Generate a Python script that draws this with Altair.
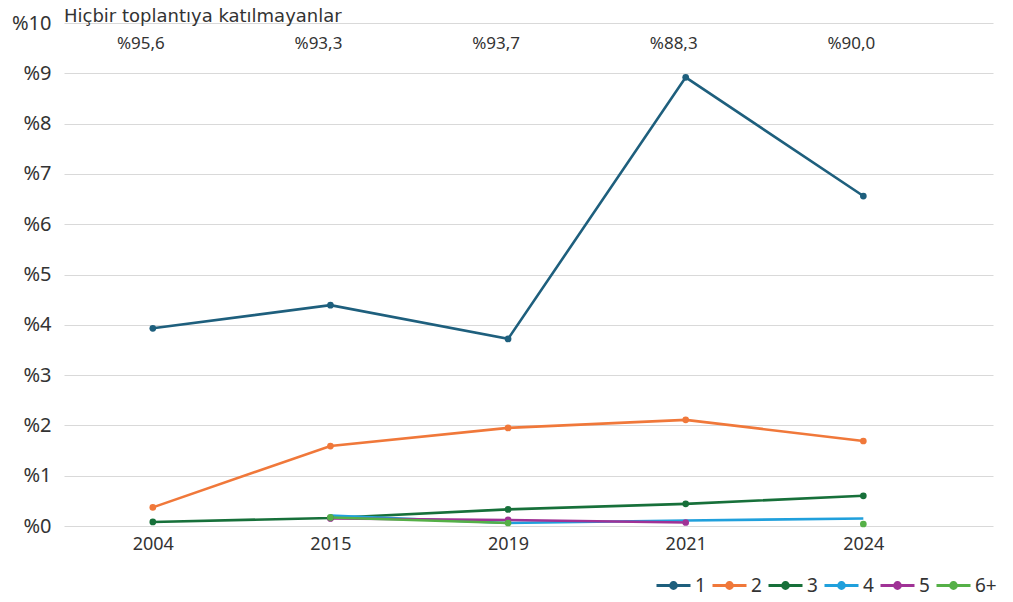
import altair as alt
import pandas as pd

years = ["2004", "2015", "2019", "2021", "2024"]
series_names = ["1", "2", "3", "4", "5", "6+"]
s1 = [3.93, 4.39, 3.72, 8.92, 6.56]
s2 = [0.37, 1.59, 1.95, 2.11, 1.69]
s3 = [0.08, 0.16, 0.33, 0.44, 0.60]
s4 = [None, 0.21, 0.06, 0.11, 0.15]
s5 = [None, 0.15, 0.12, 0.07, None]
s6 = [None, 0.17, 0.06, None, 0.04]
unmarked_series = ["4"]
top_labels = ["%95,6", "%93,3", "%93,7", "%88,3", "%90,0"]
colors = ["#1e5f7d", "#f0783a", "#17703a", "#20a0dc", "#a03296", "#55b047"]
title_text = "Hiçbir toplantıya katılmayanlar"

rows = []
for name, vals in zip(series_names, [s1, s2, s3, s4, s5, s6]):
    for i, (yr, v) in enumerate(zip(years, vals)):
        rows.append({"i": i, "year": yr, "series": name, "value": v})
df = pd.DataFrame(rows)
top_df = pd.DataFrame({"i": list(range(len(years))), "label": top_labels})

FONT = "Noto Sans"
label_expr = "[" + ",".join("'%s'" % y for y in years) + "][datum.value]"

xscale = alt.Scale(domain=[-0.5, 4.73], nice=False, zero=False)
yscale = alt.Scale(domain=[0, 10], nice=False)

legend_symbol = "M-1,0L1,0M-0.17,0a0.17,0.17 0 1,0 0.34,0a0.17,0.17 0 1,0 -0.34,0"

x_enc = alt.X("i:Q", scale=xscale, title=None,
              axis=alt.Axis(values=[0, 1, 2, 3, 4], labelExpr=label_expr, grid=False,
                            ticks=False, domain=False, labelFontSize=18, labelPadding=9,
                            labelColor="#333333", labelFont=FONT))
y_enc = alt.Y("value:Q", scale=yscale, title=None,
              axis=alt.Axis(values=list(range(11)), labelExpr="'%' + datum.value",
                            ticks=False, domain=False, gridColor="#d9d9d9", gridWidth=1,
                            labelFontSize=20, labelPadding=13, labelColor="#333333",
                            labelFont=FONT))
color_enc = alt.Color("series:N", scale=alt.Scale(domain=series_names, range=colors),
                      legend=alt.Legend(title=None, orient="none", direction="horizontal",
                                        legendX=591, legendY=544, symbolType=legend_symbol,
                                        symbolSize=1156, symbolStrokeWidth=3,
                                        labelFontSize=19, labelFont=FONT, labelColor="#333333",
                                        labelOffset=3, columnPadding=0, gridAlign="none"))

base = alt.Chart(df)
lines = base.mark_line(strokeWidth=2.6).encode(x=x_enc, y=y_enc, color=color_enc)
points = base.mark_point(size=45, filled=True, opacity=1).encode(
    x=alt.X("i:Q", scale=xscale), y=alt.Y("value:Q", scale=yscale),
    color=alt.Color("series:N", scale=alt.Scale(domain=series_names, range=colors), legend=None),
).transform_filter(
    alt.FieldOneOfPredicate(field="series", oneOf=[s for s in series_names if s not in unmarked_series])
).transform_filter("isValid(datum.value)")

tops = alt.Chart(top_df).mark_text(fontSize=17, font=FONT, color="#333333", dx=-12).encode(
    x=alt.X("i:Q", scale=xscale),
    y=alt.value(21),
    text="label:N",
)

title = alt.Chart(pd.DataFrame({"t": [title_text]})).mark_text(
    fontSize=18, font="DejaVu Sans", color="#333333", align="left", baseline="alphabetic"
).encode(x=alt.value(0), y=alt.value(-1), text="t:N")

chart = alt.layer(lines, points, tops, title).properties(
    width=929, height=503,
    autosize=alt.AutoSizeParams(type="none"),
    padding={"left": 56, "top": 15, "right": 12, "bottom": 68},
).configure_view(stroke=None)

chart.save("out.html", embed_options={"renderer": "svg", "actions": False})
